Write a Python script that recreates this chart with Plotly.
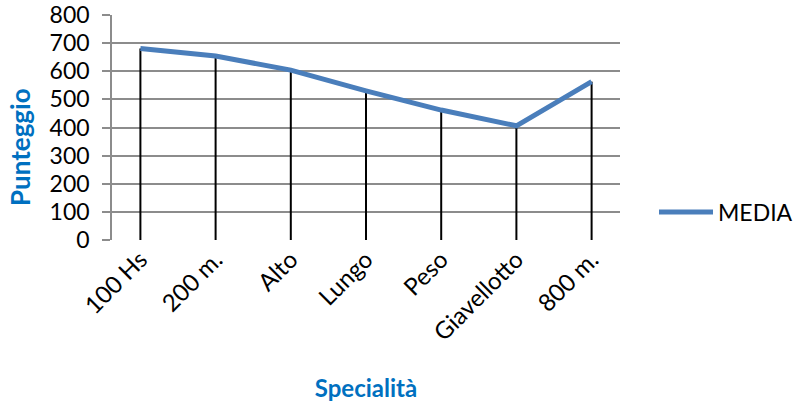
import plotly.graph_objects as go

categories = ["100 Hs", "200 m.", "Alto", "Lungo", "Peso", "Giavellotto", "800 m."]
media = [681, 654, 604, 530, 462, 406, 563]
y_ticks = [0, 100, 200, 300, 400, 500, 600, 700, 800]

FONT = "Lato"
BLUE_TITLE = "#0070C0"
GRID = "#8C8C8C"

L, R, T, B = 112, 175, 15, 165
PW = 795 - L - R
PH = 405 - T - B

fig = go.Figure()

# vertical drop lines from each point down to 0
fig.add_trace(go.Scatter(
    x=categories, y=media, mode="markers",
    marker=dict(size=1, color="rgba(0,0,0,0)"),
    error_y=dict(type="data", symmetric=False, array=[0] * len(media),
                 arrayminus=media, color="black", thickness=2, width=0),
    showlegend=False, hoverinfo="skip",
))

fig.add_trace(go.Scatter(
    x=categories, y=media, mode="lines", name="MEDIA",
    line=dict(color="#4A7EBB", width=5),
))

fig.update_layout(
    width=795, height=405,
    margin=dict(l=L, r=R, t=T, b=B, autoexpand=False),
    paper_bgcolor="white", plot_bgcolor="white",
    font=dict(family=FONT, size=22, color="black"),
    legend=dict(x=(654 - L) / PW, y=(240 - 212) / PH, xanchor="left", yanchor="middle",
                font=dict(size=23), bgcolor="rgba(0,0,0,0)",
                itemwidth=54),
    annotations=[dict(
        text="<b>Punteggio</b>", xref="paper", yref="paper",
        x=(20 - L) / PW, y=(240 - 147) / PH, xanchor="center", yanchor="middle",
        textangle=-90, showarrow=False,
        font=dict(family=FONT, size=26, color=BLUE_TITLE),
    )],
)

fig.update_xaxes(
    type="category", tickangle=-45, showgrid=False,
    showline=False, ticks="", zeroline=False, automargin=False,
    tickfont=dict(size=24),
    title=dict(text="<b>Specialità</b>", standoff=35,
               font=dict(family=FONT, size=24, color=BLUE_TITLE)),
)

fig.update_yaxes(
    range=[0, 800], tickvals=y_ticks, ticktext=[str(v) for v in y_ticks],
    showgrid=True, gridcolor=GRID, gridwidth=1.5, automargin=False,
    showline=True, linecolor=GRID, linewidth=1.5,
    ticks="outside", ticklen=8, tickcolor=GRID, tickwidth=1.5,
    ticklabelstandoff=8, zeroline=False,
    tickfont=dict(size=23),
)

fig.write_html("out.html")
